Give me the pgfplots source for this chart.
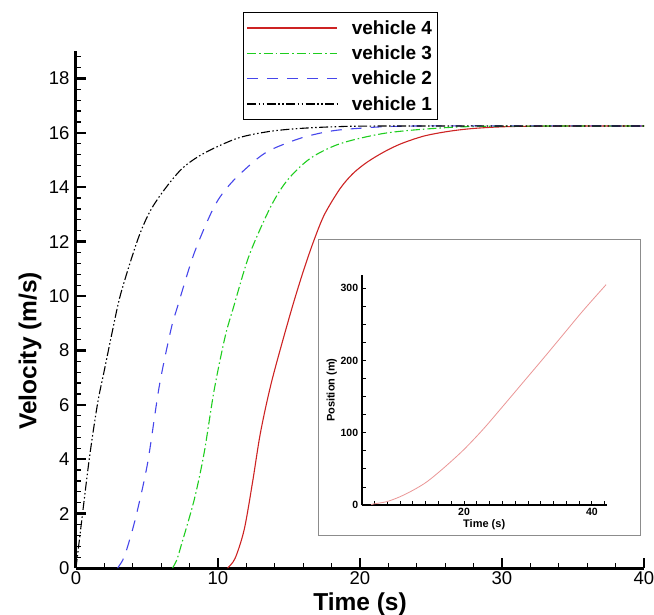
\documentclass[border=0pt]{standalone}
\usepackage{pgfplots}
\pgfplotsset{compat=1.18}
\usepackage{fontspec}
\setmainfont{Liberation Sans}
\definecolor{vred}{RGB}{205,35,35}
\definecolor{vgreen}{RGB}{30,205,30}
\definecolor{vblue}{RGB}{70,70,235}
\definecolor{vpink}{RGB}{235,150,150}
\begin{document}
\begin{tikzpicture}
\path[use as bounding box] (-76pt,-46pt) rectangle (578pt,568pt);
\begin{axis}[at={(0pt,0pt)}, anchor=south west, scale only axis,
  width=568pt, height=516.8pt,
  xmin=0, xmax=40, ymin=0, ymax=19,
  axis lines=left, axis line style={-, line width=3pt},
  xtick={0,10,20,30,40}, ytick={0,2,...,18},
  minor xtick={2,4,6,8,12,14,16,18,22,24,26,28,32,34,36,38},
  minor ytick={0.4,0.8,1.2,1.6,2.4,2.8,3.2,3.6,4.4,4.8,5.2,5.6,6.4,6.8,7.2,7.6,8.4,8.8,9.2,9.6,10.4,10.8,11.2,11.6,12.4,12.8,13.2,13.6,14.4,14.8,15.2,15.6,16.4,16.8,17.2,17.6,18.4,18.8},
  tick align=inside, major tick length=10pt, minor tick length=5pt,
  every major tick/.append style={line width=2.5pt, black},
  every minor tick/.append style={line width=1.2pt, black},
  /pgf/number format/assume math mode=true,
  ticklabel style={font=\fontsize{18.5}{20}\selectfont},
  yticklabel style={xshift=-3pt},
  xlabel={Time (s)}, ylabel={Velocity (m/s)},
  every axis x label/.style={at={(axis description cs:0.5,-0.0697)}, anchor=center, font=\bfseries\fontsize{24.5}{26}\selectfont},
  every axis y label/.style={at={(axis description cs:-0.081,0.42)}, anchor=center, rotate=90, font=\bfseries\fontsize{24.5}{26}\selectfont},
  legend style={at={(0.294,1.0759)}, anchor=north west, draw=black, line width=1pt,
    font=\bfseries\fontsize{19}{20}\selectfont, inner xsep=3pt, inner ysep=6pt, row sep=6pt,
    /tikz/every odd column/.append style={column sep=12pt}},
  legend cell align=left,
  legend image code/.code={\draw[#1] (0pt,0pt) -- (90pt,0pt);},
]
\addlegendimage{vred, line width=1.3pt}
\addlegendentry{vehicle 4}
\addlegendimage{vgreen, line width=1.3pt, dash pattern=on 9pt off 3pt on 1.5pt off 3pt}
\addlegendentry{vehicle 3}
\addlegendimage{vblue, line width=1.3pt, dash pattern=on 11pt off 9pt}
\addlegendentry{vehicle 2}
\addlegendimage{black, line width=1.3pt, dash pattern=on 9pt off 2.5pt on 1.5pt off 2.5pt on 1.5pt off 2.5pt}
\addlegendentry{vehicle 1}
\addplot[vred, line width=1.1pt, smooth, tension=0.5, forget plot] coordinates {
(10.67,0) (11.2,0.35) (11.84,1.4) (12.42,3.11) (13.0,5.0) (13.8,6.9) (15.1,9.36) (16.0,10.9) (16.76,12.05) (17.5,13.0) (18.6,13.95) (19.5,14.5) (20.5,14.92) (21.7,15.3) (22.9,15.6) (24.5,15.88) (26.2,16.05) (28,16.16) (30.6,16.23) (35,16.25) (40,16.25)};
\addplot[vgreen, line width=1.1pt, smooth, tension=0.5, forget plot, dash pattern=on 9pt off 3pt on 1.5pt off 3pt] coordinates {
(6.8,0) (7.1,0.3) (7.38,0.78) (8.32,2.5) (9.02,4.22) (9.73,6.54) (10.5,8.5) (11.1,9.6) (12.2,11.5) (13.71,13.28) (14.89,14.26) (16.5,15.06) (18.6,15.6) (21.7,15.98) (25.2,16.16) (29,16.24) (40,16.25)};
\addplot[vblue, line width=1.1pt, smooth, tension=0.5, forget plot, dash pattern=on 11pt off 9pt] coordinates {
(2.93,0) (3.3,0.3) (3.63,0.78) (4.22,1.89) (5.04,3.85) (5.86,6.67) (6.68,8.75) (7.15,9.61) (8.32,11.57) (9.73,13.28) (10.9,14.14) (12.54,14.95) (13.7,15.37) (15.8,15.8) (17.8,16.05) (19.8,16.16) (24,16.25) (40,16.25)};
\addplot[black, line width=1.1pt, smooth, tension=0.5, forget plot, dash pattern=on 9pt off 2.5pt on 1.5pt off 2.5pt on 1.5pt off 2.5pt] coordinates {
(0,0) (0.3,1.3) (0.94,4.03) (1.52,6.05) (2.0,7.28) (2.58,8.75) (3.16,10.1) (4.34,12.06) (5.2,13.1) (6.21,13.9) (7.5,14.7) (9.02,15.25) (11.37,15.8) (13.5,16.04) (15.5,16.15) (18.1,16.22) (22,16.25) (40,16.25)};
\end{axis}
\fill[white] (242pt,33pt) rectangle (564pt,328pt);
\draw[black!45, line width=1pt] (242pt,33pt) rectangle (564pt,328pt);
\begin{axis}[at={(285.7pt,63pt)}, anchor=south west, scale only axis,
  width=245pt, height=229.7pt,
  xmin=4, xmax=42.3, ymin=0, ymax=318,
  axis lines=left, axis line style={-, line width=2pt},
  xtick={20,40}, ytick={0,100,200,300},
  minor xtick={6,8,10,12,14,16,18,22,24,26,28,30,32,34,36,38,42},
  minor ytick={25,50,75,125,150,175,225,250,275},
  tick align=inside, major tick length=4pt, minor tick length=4pt,
  every major tick/.append style={line width=1pt, black},
  every minor tick/.append style={line width=0.8pt, black},
  /pgf/number format/assume math mode=true,
  ticklabel style={font=\bfseries\fontsize{10.5}{12}\selectfont},
  xlabel={Time (s)}, ylabel={Position (m)},
  every axis x label/.style={at={(axis description cs:0.5,-0.087)}, anchor=center, font=\bfseries\fontsize{11}{12}\selectfont},
  every axis y label/.style={at={(axis description cs:-0.122,0.5)}, anchor=center, rotate=90, font=\bfseries\fontsize{11}{12}\selectfont},
]
\addplot[vpink, line width=0.8pt, smooth, tension=0.5] coordinates {
(5.5,0) (5.8,1.4) (7.9,4.6) (10.0,11.5) (12.1,20.8) (14.2,32.2) (16.75,50.7) (19.9,76.1) (23.0,105) (26.1,137) (29.25,170) (32.4,203) (35.5,236) (38.6,269) (42.2,305)};
\end{axis}
\end{tikzpicture}
\end{document}
